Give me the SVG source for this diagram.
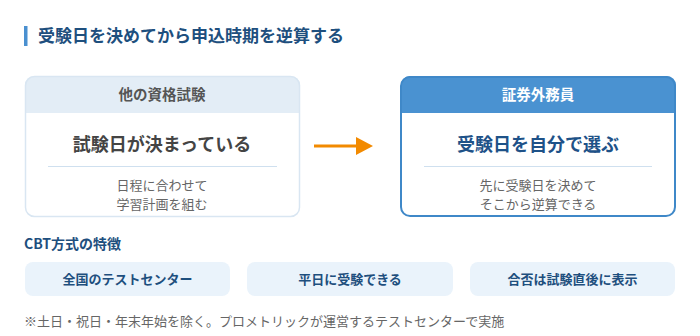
<svg xmlns="http://www.w3.org/2000/svg" width="700" height="336" viewBox="0 0 700 336">
<style>
text{font-family:"Noto Sans CJK JP","Noto Sans",sans-serif}
.h{font-size:17px;font-weight:700;fill:#1e4f7e}
.hd{font-size:14.5px;font-weight:700;text-anchor:middle}
.main{font-size:18px;font-weight:700;text-anchor:middle}
.sub{font-size:13px;fill:#666;text-anchor:middle}
.pill{fill:#eaf3fb}
.pt{font-size:13px;font-weight:700;fill:#1e4f7e;text-anchor:middle}
</style>
<defs>
<marker id="ah" markerWidth="17" markerHeight="18" refX="0" refY="9" orient="auto" markerUnits="userSpaceOnUse" viewBox="0 0 17 18"><path d="M0,0 L17,9 L0,18 Z" fill="#f28a00"/></marker>
<clipPath id="cl"><rect x="25" y="76" width="275" height="141" rx="9"/></clipPath>
<clipPath id="cr"><rect x="401" y="76" width="275" height="141" rx="9"/></clipPath>
</defs>
<rect width="700" height="336" fill="#fff"/>
<g id="title">
<rect x="24" y="26" width="3.5" height="20" fill="#4a90d0"/>
<text x="38" y="42" class="h">受験日を決めてから申込時期を逆算する</text>
</g>
<g id="other">
<g clip-path="url(#cl)"><rect x="25" y="76" width="275" height="37" fill="#e3edf6"/></g>
<rect x="25.5" y="76.5" width="274" height="140" rx="9" fill="none" stroke="#d9e6f2" stroke-width="1.5"/>
<text x="162" y="100" class="hd" fill="#555">他の資格試験</text>
<text x="162" y="151" class="main" fill="#444">試験日が決まっている</text>
<line x1="48" y1="166.5" x2="277" y2="166.5" stroke="#cfe0ef" stroke-width="1"/>
<text x="162" y="190" class="sub">日程に合わせて</text>
<text x="162" y="209" class="sub">学習計画を組む</text>
</g>
<g id="connectors">
<line x1="314" y1="146" x2="356" y2="146" stroke="#f28a00" stroke-width="3" marker-end="url(#ah)"/>
</g>
<g id="gaimuin">
<g clip-path="url(#cr)"><rect x="401" y="76" width="275" height="37" fill="#4a92d1"/></g>
<rect x="401" y="77" width="274" height="139" rx="9" fill="none" stroke="#3f88c8" stroke-width="2"/>
<text x="538" y="100" class="hd" fill="#fff">証券外務員</text>
<text x="538" y="151" class="main" fill="#1e5288">受験日を自分で選ぶ</text>
<line x1="424" y1="166.5" x2="652" y2="166.5" stroke="#cfe0ef" stroke-width="1"/>
<text x="538" y="190" class="sub">先に受験日を決めて</text>
<text x="538" y="209" class="sub">そこから逆算できる</text>
</g>
<g id="cbt">
<text x="24" y="249" font-size="14" font-weight="700" fill="#1e4f7e">CBT方式の特徴</text>
</g>
<g id="f1"><rect x="25" y="262" width="205" height="34" rx="8" class="pill"/><text x="127.5" y="284" class="pt">全国のテストセンター</text></g>
<g id="f2"><rect x="247" y="262" width="206" height="34" rx="8" class="pill"/><text x="350" y="284" class="pt">平日に受験できる</text></g>
<g id="f3"><rect x="470" y="262" width="205" height="34" rx="8" class="pill"/><text x="572.5" y="284" class="pt">合否は試験直後に表示</text></g>
<g id="note"><text x="24" y="326" font-size="13" fill="#666">※土日・祝日・年末年始を除く。プロメトリックが運営するテストセンターで実施</text></g>
</svg>
